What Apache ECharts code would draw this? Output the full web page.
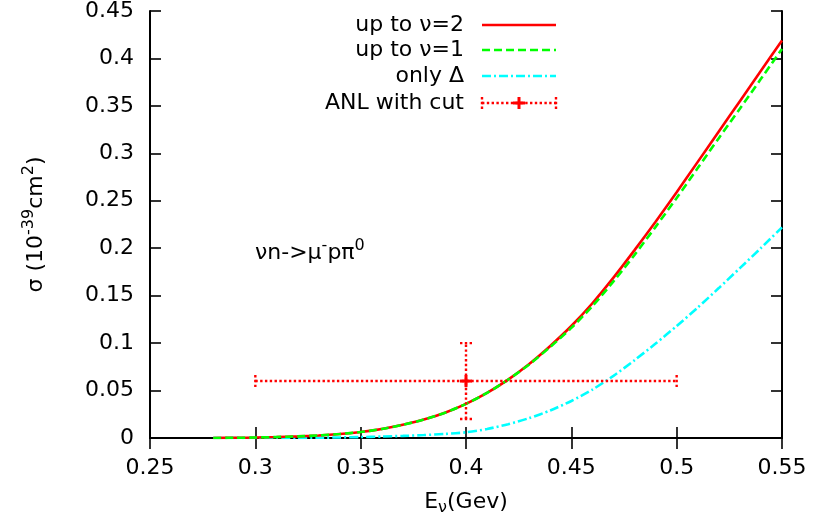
<!DOCTYPE html>
<html><head><meta charset="utf-8">
<script src="https://cdn.jsdelivr.net/npm/echarts@6/dist/echarts.min.js"></script>
<style>html,body{margin:0;padding:0;background:#fff}#c{width:813px;height:525px}</style>
</head><body><div id="c"></div>
<script>
// Neutrino energy (GeV)
const energies = [0.28,0.29,0.30,0.31,0.32,0.33,0.34,0.35,0.36,0.37,0.38,0.39,0.40,0.41,0.42,0.43,0.44,0.45,0.46,0.47,0.48,0.49,0.50,0.51,0.52,0.53,0.54,0.55];
// sigma (1e-39 cm^2)
const upToNu2 = [0,0.0002,0.0005,0.0010,0.0017,0.0027,0.0042,0.0063,0.0095,0.0139,0.0194,0.0266,0.036,0.0475,0.0615,0.078,0.097,0.118,0.142,0.169,0.198,0.228,0.259,0.291,0.323,0.355,0.387,0.419];
const upToNu1 = [0,0.0002,0.0005,0.0010,0.0017,0.0027,0.0042,0.0063,0.0095,0.0139,0.0194,0.0266,0.036,0.0475,0.0615,0.0775,0.096,0.116,0.139,0.165,0.193,0.2225,0.253,0.2845,0.316,0.347,0.3785,0.410];
const onlyDelta = [0,0,0,0,0.0001,0.0003,0.0006,0.001,0.0015,0.0022,0.0031,0.0043,0.006,0.0095,0.0145,0.021,0.029,0.039,0.051,0.0655,0.082,0.0995,0.118,0.1375,0.158,0.179,0.2002,0.222];
// ANL with cut: [E, sigma, E low, E high, sigma low, sigma high]
const anlWithCut = [[0.40, 0.06, 0.30, 0.50, 0.02, 0.10]];
const legendLabels = ['up to \u03bd=2', 'up to \u03bd=1', 'only \u0394', 'ANL with cut'];

const FONT = '"DejaVu Sans", sans-serif';
const FS = 22;
const LW = 2.6;
const RED = '#ff0000', GREEN = '#00ff00', CYAN = '#00ffff';

function pairs(ys){ return energies.map((e,i)=>[e, ys[i]]); }
function fmt(v){ return String(parseFloat(v.toFixed(2))); }

const chart = echarts.init(document.getElementById('c'), null, {renderer:'canvas'});

const axisCommon = {
  type:'value',
  axisLine:{show:true, lineStyle:{color:'#000', width:2}},
  axisTick:{show:true, inside:true, length:11, lineStyle:{color:'#000', width:1.6}},
  splitLine:{show:false},
};

function errorBarRender(params, api){
  const x = api.value(0), y = api.value(1);
  const xl = api.value(2), xh = api.value(3), yl = api.value(4), yh = api.value(5);
  const c = api.coord([x,y]);
  const pxl = api.coord([xl,y]), pxh = api.coord([xh,y]);
  const pyl = api.coord([x,yl]), pyh = api.coord([x,yh]);
  const dot = {stroke:RED, lineWidth:2.4, lineDash:[2.4,2.4], fill:null};
  const solid = {stroke:RED, lineWidth:3, fill:null};
  const cap = 6;
  const L = (x1,y1,x2,y2,st)=>({type:'line', shape:{x1,y1,x2,y2}, style:st});
  return {type:'group', children:[
    L(pxl[0],pxl[1],pxh[0],pxh[1],dot),
    L(pyl[0],pyl[1],pyh[0],pyh[1],dot),
    L(pxl[0],pxl[1]-cap,pxl[0],pxl[1]+cap,dot),
    L(pxh[0],pxh[1]-cap,pxh[0],pxh[1]+cap,dot),
    L(pyl[0]-cap,pyl[1],pyl[0]+cap,pyl[1],dot),
    L(pyh[0]-cap,pyh[1],pyh[0]+cap,pyh[1],dot),
    L(c[0]-6,c[1],c[0]+6,c[1],solid),
    L(c[0],c[1]-6,c[0],c[1]+6,solid)
  ]};
}

// legend drawn with graphic elements
const legTextRight = 464, legX1 = 482, legX2 = 556;
const legRows = [25, 50, 76, 103];
const legendGraphics = [];
legendLabels.forEach((t,i)=>{
  legendGraphics.push({type:'text', x:legTextRight, y:legRows[i], style:{text:t, font:FS+'px '+FONT, fill:'#000', textAlign:'right', textVerticalAlign:'middle'}});
});
legendGraphics.push({type:'line', shape:{x1:legX1,y1:legRows[0],x2:legX2,y2:legRows[0]}, style:{stroke:RED,lineWidth:LW}});
legendGraphics.push({type:'line', shape:{x1:legX1,y1:legRows[1],x2:legX2,y2:legRows[1]}, style:{stroke:GREEN,lineWidth:LW,lineDash:[8,4]}});
legendGraphics.push({type:'line', shape:{x1:legX1,y1:legRows[2],x2:legX2,y2:legRows[2]}, style:{stroke:CYAN,lineWidth:LW,lineDash:[9,3,2,3]}});
(function(){
  const y = legRows[3], mid = (legX1+legX2)/2;
  const dot = {stroke:RED,lineWidth:2.4,lineDash:[2.4,2.4]};
  legendGraphics.push({type:'line', shape:{x1:legX1,y1:y,x2:legX2,y2:y}, style:dot});
  legendGraphics.push({type:'line', shape:{x1:legX1,y1:y-6,x2:legX1,y2:y+6}, style:dot});
  legendGraphics.push({type:'line', shape:{x1:legX2,y1:y-6,x2:legX2,y2:y+6}, style:dot});
  legendGraphics.push({type:'line', shape:{x1:mid-6,y1:y,x2:mid+6,y2:y}, style:{stroke:RED,lineWidth:3}});
  legendGraphics.push({type:'line', shape:{x1:mid,y1:y-6,x2:mid,y2:y+6}, style:{stroke:RED,lineWidth:3}});
})();

const option = {
  animation:false,
  backgroundColor:'#fff',
  textStyle:{fontFamily:FONT},
  grid:{left:150, right:31, top:11, bottom:87, containLabel:false},
  xAxis:[
    Object.assign({}, axisCommon, {
      position:'bottom', min:0.25, max:0.55, interval:0.05,
      axisLabel:{show:true, margin:19, fontSize:FS, color:'#000', fontFamily:FONT, formatter:fmt},
      name:'E{sub|\u03bd}(Gev)', nameLocation:'middle', nameGap:50,
      nameTextStyle:{fontSize:FS, color:'#000', fontFamily:FONT,
        rich:{sub:{fontSize:16, fontFamily:FONT, color:'#000', padding:[12,0,0,0]}}}
    }),
    Object.assign({}, axisCommon, {position:'top', min:0.25, max:0.55, interval:0.05, axisLabel:{show:false}})
  ],
  yAxis:[
    Object.assign({}, axisCommon, {
      position:'left', min:0, max:0.45, interval:0.05,
      axisLabel:{show:true, margin:16, fontSize:FS, color:'#000', fontFamily:FONT, formatter:fmt},
      name:'\u03c3 (10{sup|-39}cm{sup|2})', nameLocation:'middle', nameGap:99, nameRotate:90,
      nameTextStyle:{fontSize:FS, color:'#000', fontFamily:FONT,
        rich:{sup:{fontSize:16, fontFamily:FONT, color:'#000', padding:[0,0,14,0]}}}
    }),
    Object.assign({}, axisCommon, {position:'right', min:0, max:0.45, interval:0.05, axisLabel:{show:false}})
  ],
  graphic: legendGraphics.concat([
    {type:'text', x:255, y:253, style:{
      text:'\u03bdn->\u03bc{sup|-}p\u03c0{sup|0}', font:FS+'px '+FONT, fill:'#000', textVerticalAlign:'middle',
      rich:{sup:{fontSize:16, fontFamily:FONT, fill:'#000', padding:[0,0,14,0]}}}}
  ]),
  series:[
    {name:legendLabels[2], type:'line', data:pairs(onlyDelta), showSymbol:false, smooth:0.25,
     lineStyle:{color:CYAN, width:LW, type:[9,3,2,3]}, z:2},
    {name:legendLabels[0], type:'line', data:pairs(upToNu2), showSymbol:false, smooth:0.25,
     lineStyle:{color:RED, width:LW, type:'solid'}, z:3},
    {name:legendLabels[1], type:'line', data:pairs(upToNu1), showSymbol:false, smooth:0.25,
     lineStyle:{color:GREEN, width:LW, type:[8,4]}, z:4},
    {name:legendLabels[3], type:'custom', data:anlWithCut, renderItem:errorBarRender, z:5,
     encode:{x:[0,2,3], y:[1,4,5]}}
  ]
};
chart.setOption(option);
</script>
</body></html>
